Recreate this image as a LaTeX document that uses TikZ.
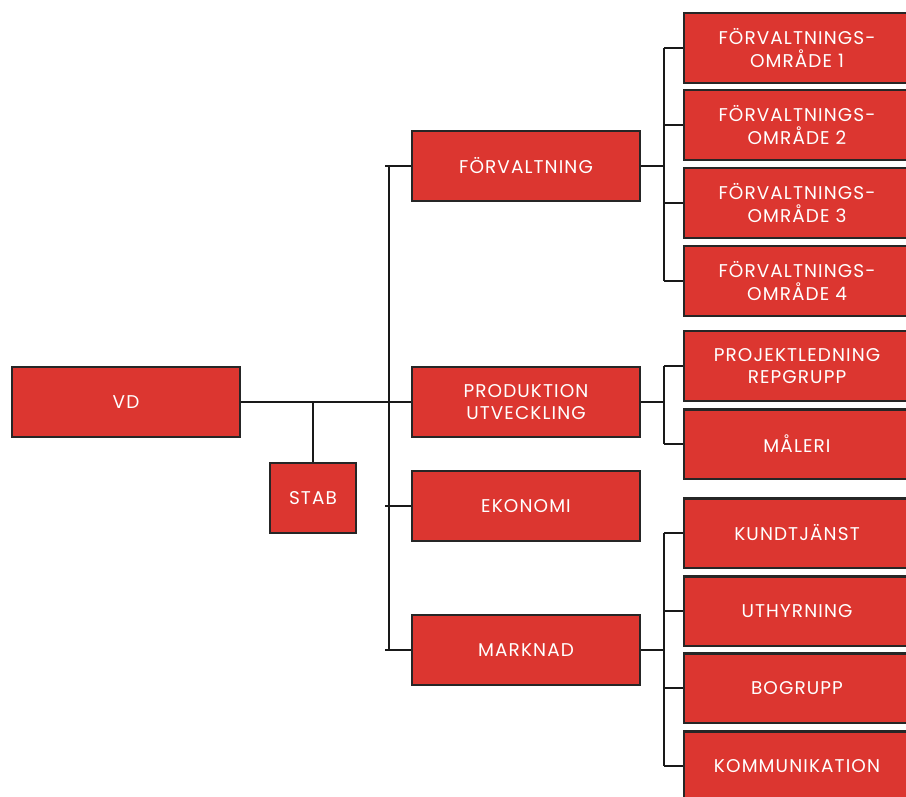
\documentclass[tikz,border=0pt]{standalone}
\usepackage{fontspec}
\setmainfont[LetterSpace=6]{Poppins}
\usepackage{tikz}
\usetikzlibrary{positioning, calc}
\definecolor{orgred}{RGB}{220,54,48}

\begin{document}
\begin{tikzpicture}[x=0.02cm, y=-0.02cm,
    box/.style={draw=black!85, line width=1.4pt, fill=orgred, text=white,
        font=\fontsize{10.5}{13}\selectfont, align=center, inner sep=0pt,
        minimum height=1.41cm},
    unit/.style={box, minimum width=4.56cm},
    sub/.style={box, minimum width=4.52cm, minimum height=1.39cm},
    link/.style={line width=1.4pt, black!90}]
    \clip (0,0) rectangle (906,796);
    % ledning
    \node[unit] (vd) at (126,402) {VD};
    \node[box, minimum width=1.72cm] (stab) at (313,498) {STAB};
    % avdelningar
    \node[unit] (forv) at (526,166) {FÖRVALTNING};
    \node[unit] (prod) at (526,402) {PRODUKTION\\UTVECKLING};
    \node[unit] (ekon) at (526,506) {EKONOMI};
    \node[unit] (mark) at (526,650) {MARKNAD};
    % enheter
    \node[sub] (fo1) at (797,48) {FÖRVALTNINGS-\\OMRÅDE 1};
    \node[sub] (fo2) at (797,125) {FÖRVALTNINGS-\\OMRÅDE 2};
    \node[sub] (fo3) at (797,203) {FÖRVALTNINGS-\\OMRÅDE 3};
    \node[sub] (fo4) at (797,281) {FÖRVALTNINGS-\\OMRÅDE 4};
    \node[sub] (proj) at (797,366) {PROJEKTLEDNING\\REPGRUPP};
    \node[sub] (male) at (797,444) {MÅLERI};
    \node[sub] (kund) at (797,533) {KUNDTJÄNST};
    \node[sub] (uthy) at (797,611) {UTHYRNING};
    \node[sub] (bogr) at (797,688) {BOGRUPP};
    \node[sub] (komm) at (797,766) {KOMMUNIKATION};
    \coordinate (lbus) at (389,0);
    \coordinate (rbus) at (664,0);
    % linjer
    \draw[link] (vd.east) -- (prod.west);
    \draw[link] (stab.north) -- (stab.north |- vd.east);
    \draw[link] (forv.west -| lbus) -- (mark.west -| lbus);
    \foreach \n in {forv, ekon, mark}
        \draw[link] (\n.west) -- ([xshift=-2]\n.west -| lbus);
    \draw[link] (fo1.west -| rbus) -- (fo4.west -| rbus);
    \draw[link] (proj.west -| rbus) -- (male.west -| rbus);
    \draw[link] (kund.west -| rbus) -- (komm.west -| rbus);
    \foreach \n in {fo1, fo2, fo3, fo4, proj, male, kund, uthy, bogr, komm}
        \draw[link] (\n.west) -- (\n.west -| rbus);
    \foreach \n in {forv, prod, mark}
        \draw[link] (\n.east) -- (\n.east -| rbus);
\end{tikzpicture}
\end{document}
